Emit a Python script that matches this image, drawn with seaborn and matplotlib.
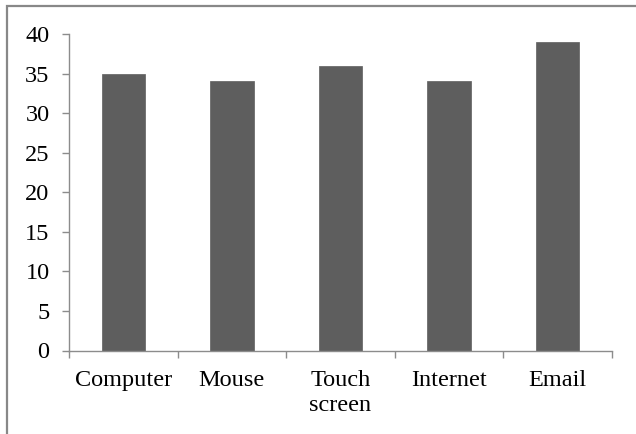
import matplotlib
matplotlib.use("Agg")
import matplotlib.pyplot as plt
import seaborn as sns
import pandas as pd
from matplotlib.patches import Rectangle

categories = ["Computer", "Mouse", "Touch\nscreen", "Internet", "Email"]
values = [35, 34, 36, 34, 39]
y_ticks = [0, 5, 10, 15, 20, 25, 30, 35, 40]

sns.set_style("white")
plt.rcParams["font.family"] = ["Liberation Serif", "DejaVu Serif"]

df = pd.DataFrame({"item": categories, "count": values})

fig = plt.figure(figsize=(6.36, 4.34), dpi=100)
ax = fig.add_axes([69 / 636, 1 - 350.5 / 434, (612 - 69) / 636, (350.5 - 34) / 434])

sns.barplot(data=df, x="item", y="count", color="#5e5e5e", saturation=1,
            width=0.4, edgecolor="#5e5e5e", linewidth=0.5, ax=ax)

axis_grey = "#8c8c8c"
fs = 17.5
ax.set_ylim(0, 40)
ax.set_yticks(y_ticks)
ax.set_xlim(-0.5, len(categories) - 0.5)
ax.set_xticks([i - 0.5 for i in range(len(categories) + 1)], minor=False)
ax.set_xticklabels([])
ax.set_xticks(range(len(categories)), minor=True)
ax.set_xticklabels(categories, minor=True, fontsize=fs, color="black", linespacing=1.26)
ax.tick_params(axis="x", which="minor", bottom=True, length=0, pad=14)
ax.tick_params(axis="x", which="major", bottom=True, length=5, width=1,
               color=axis_grey, direction="out")
ax.tick_params(axis="y", left=True, length=5, width=1, color=axis_grey, direction="out",
               labelsize=fs, labelcolor="black", pad=9)

ax.set_xlabel("")
ax.set_ylabel("")
for side in ["top", "right"]:
    ax.spines[side].set_visible(False)
for side in ["left", "bottom"]:
    ax.spines[side].set_color(axis_grey)
    ax.spines[side].set_linewidth(1)

# chart-area frame
fig.patches.append(Rectangle((7 / 636, -0.2), 1.2, 1.2 - 6 / 434,
                             transform=fig.transFigure, fill=False,
                             edgecolor="#888888", linewidth=1.6))

fig.savefig("out.png", dpi=100)
